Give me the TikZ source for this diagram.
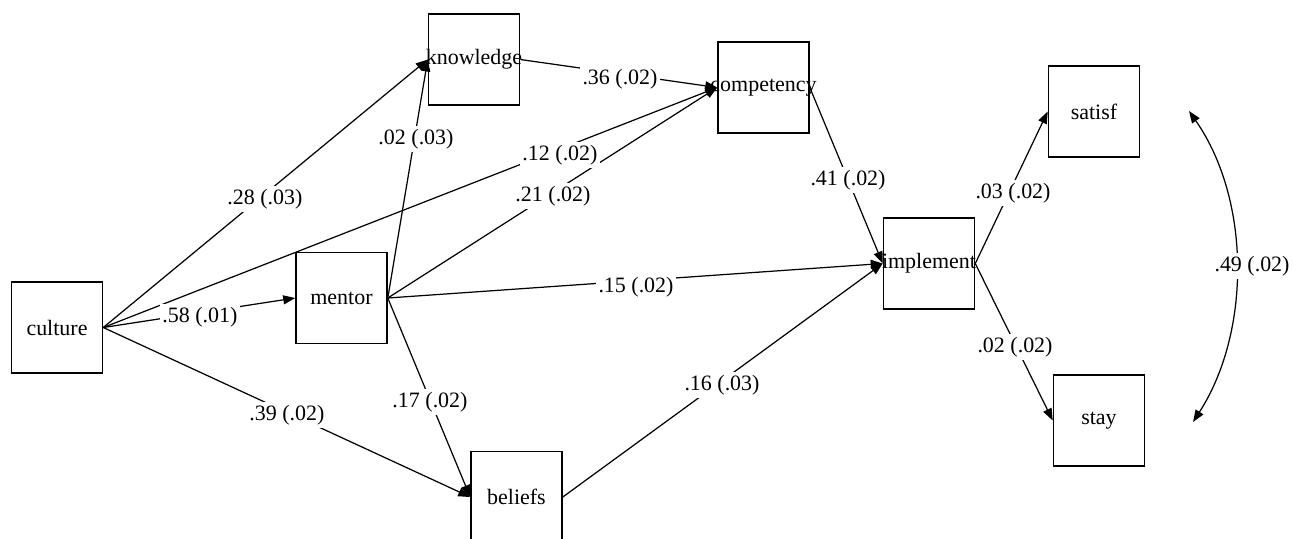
\documentclass[tikz,border=0pt]{standalone}
\usepackage{fontspec}
\setmainfont{Liberation Serif}
\usepackage{tikz}
\usetikzlibrary{arrows.meta}

\newcommand{\boxtxt}[1]{\makebox[0pt]{#1}}

\begin{document}
\begin{tikzpicture}[x=0.02cm,y=-0.02cm,
        font=\fontsize{12.5}{15}\selectfont,
        var/.style={draw,line width=0.9pt,minimum size=1.82cm,inner sep=0pt},
        eff/.style={-{Triangle[length=0.24cm,width=0.18cm]},line width=0.7pt},
        coef/.style={fill=white,inner sep=1.5pt}]

        \useasboundingbox (0,0) rectangle (1293,538);

        %------------------
        % 変数
        %------------------

        \node[var] (culture)    at (57,327.5)   {\boxtxt{culture}};
        \node[var] (mentor)     at (341.5,298)  {\boxtxt{mentor}};
        \node[var] (knowledge)  at (474,59.5)   {\boxtxt{knowledge}};
        \node[var] (competency) at (763.5,87.5) {\boxtxt{competency}};
        \node[var] (implement)  at (929,263.5)  {\boxtxt{implement}};
        \node[var] (beliefs)    at (516.5,497)  {\boxtxt{beliefs}};
        \node[var] (satisf)     at (1094,111.5) {\boxtxt{satisf}};
        \node[var] (stay)       at (1099,420.5) {\boxtxt{stay}};

        %------------------
        % パス
        %------------------

        \foreach \a/\b in {culture/knowledge,culture/competency,culture/mentor,
                           culture/beliefs,mentor/knowledge,mentor/competency,
                           mentor/implement,mentor/beliefs,knowledge/competency,
                           competency/implement,beliefs/implement,
                           implement/satisf,implement/stay}
          \draw[eff] (\a.east) -- (\b.west);

        % 相関（satisf と stay）
        \coordinate (s1) at (1189,111);
        \coordinate (s2) at (1193,422);
        \draw[{Triangle[length=0.24cm,width=0.18cm]}-{Triangle[length=0.24cm,width=0.18cm]},line width=0.7pt]
          (s1) .. controls (1251,200) and (1251,332) .. (s2);

        %------------------
        % 係数
        %------------------

        \foreach \n/\x/\y/\txt in {k1/265/199/{.28 (.03)},k2/560/155/{.12 (.02)},
                                   k3/200/317/{.58 (.01)},k4/287/415/{.39 (.02)},
                                   k5/416/139/{.02 (.03)},k6/553/196/{.21 (.02)},
                                   k7/636/287/{.15 (.02)},k8/430/402/{.17 (.02)},
                                   k9/620/79/{.36 (.02)},k10/848/180/{.41 (.02)},
                                   k11/722/385/{.16 (.03)},k12/1013/193/{.03 (.02)},
                                   k13/1015/347/{.02 (.02)},k14/1252/266/{.49 (.02)}}
          \node[coef] (\n) at (\x,\y) {\txt};
      \end{tikzpicture}
\end{document}
